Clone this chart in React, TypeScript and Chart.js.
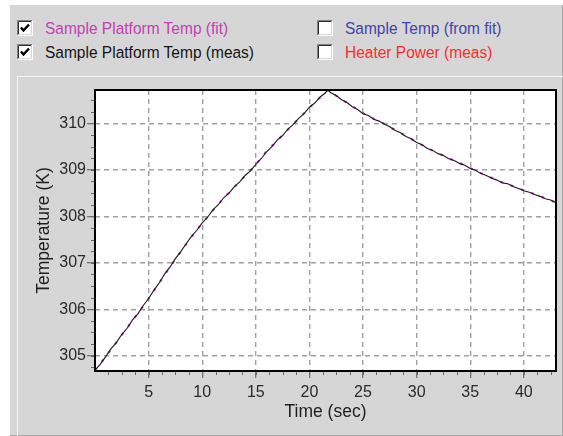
import { useEffect, useRef } from "react";
import { Chart, registerables } from "chart.js";

Chart.register(...registerables);

// Fitted platform temperature (K) against time (s)
const timeFit = [
  0, 1, 2, 3, 4, 5, 6, 7, 8, 9, 10, 11, 12, 13, 14, 15, 16, 17, 18, 19, 20, 21, 21.7,
  22, 23, 24, 25, 26, 27, 28, 29, 30, 31, 32, 33, 34, 35, 36, 37, 38, 39, 40, 41, 42, 43,
];
const tempFit = [
  304.68, 304.98, 305.29, 305.6, 305.91, 306.23, 306.57, 306.91, 307.24, 307.56, 307.85,
  308.13, 308.39, 308.63, 308.87, 309.12, 309.4, 309.63, 309.87, 310.1, 310.34, 310.56, 310.72,
  310.67, 310.52, 310.37, 310.22, 310.1, 309.99, 309.86, 309.73, 309.6, 309.47, 309.36,
  309.25, 309.15, 309.04, 308.93, 308.83, 308.73, 308.65, 308.56, 308.48, 308.39, 308.3,
];

// Measured platform temperature (K) against time (s)
const timeMeas = [
  0, 0.5, 1, 1.5, 2, 2.5, 3, 3.5, 4, 4.5, 5, 5.5, 6, 6.5, 7, 7.5, 8, 8.5, 9, 9.5, 10, 10.5,
  11, 11.5, 12, 12.5, 13, 13.5, 14, 14.5, 15, 15.5, 16, 16.5, 17, 17.5, 18, 18.5, 19, 19.5,
  20, 20.5, 21, 21.5, 21.7, 22, 22.5, 23, 23.5, 24, 24.5, 25, 25.5, 26, 26.5, 27, 27.5, 28,
  28.5, 29, 29.5, 30, 30.5, 31, 31.5, 32, 32.5, 33, 33.5, 34, 34.5, 35, 35.5, 36, 36.5, 37,
  37.5, 38, 38.5, 39, 39.5, 40, 40.5, 41, 41.5, 42, 42.5, 43,
];
const tempMeas = [
  304.69, 304.82, 304.98, 305.15, 305.28, 305.46, 305.59, 305.77, 305.9, 306.08, 306.23,
  306.41, 306.57, 306.76, 306.91, 307.09, 307.24, 307.41, 307.57, 307.7, 307.86, 307.98,
  308.14, 308.25, 308.4, 308.5, 308.64, 308.74, 308.88, 308.98, 309.12, 309.24, 309.39,
  309.5, 309.64, 309.74, 309.88, 309.98, 310.11, 310.21, 310.35, 310.44, 310.57, 310.66,
  310.72, 310.66, 310.6, 310.51, 310.45, 310.36, 310.3, 310.21, 310.17, 310.09, 310.05,
  309.98, 309.93, 309.85, 309.8, 309.72, 309.67, 309.59, 309.54, 309.46, 309.42, 309.35,
  309.31, 309.24, 309.2, 309.14, 309.1, 309.03, 308.99, 308.92, 308.88, 308.82, 308.78,
  308.72, 308.7, 308.64, 308.6, 308.55, 308.52, 308.47, 308.43, 308.38, 308.35, 308.29,
];

const xTicks = [5, 10, 15, 20, 25, 30, 35, 40];
const yTicks = [305, 306, 307, 308, 309, 310];
const xRange = [0, 43];
const yRange = [304.67, 310.72];
const xMinorStep = 1.25;
const yMinorStep = 0.25;

const legendLabels = [
  "Sample Platform Temp (fit)",
  "Sample Temp (from fit)",
  "Sample Platform Temp (meas)",
  "Heater Power (meas)",
];
const legendColors = ["#c440b4", "#4444a8", "#151515", "#ff2a2a"];
const legendChecked = [true, false, true, false];

const FONT = "'Liberation Sans', Arial, sans-serif";

// White plot area with a heavy black frame and small outside minor ticks
const plotFrame = {
  id: "plotFrame",
  beforeDraw(chart: any) {
    const { ctx, chartArea: a } = chart;
    ctx.save();
    ctx.fillStyle = "#ffffff";
    ctx.fillRect(a.left, a.top, a.right - a.left, a.bottom - a.top);
    ctx.restore();
  },
  afterDraw(chart: any) {
    const { ctx, chartArea: a, scales } = chart;
    const x = scales.x;
    const y = scales.y;
    ctx.save();
    ctx.strokeStyle = "#6a6a6a";
    ctx.lineWidth = 1;
    ctx.beginPath();
    for (let v = x.min + xMinorStep; v < x.max; v += xMinorStep) {
      const px = Math.round(x.getPixelForValue(v)) + 0.5;
      ctx.moveTo(px, a.bottom);
      ctx.lineTo(px, a.bottom + 4);
    }
    for (let v = Math.ceil(y.min / yMinorStep) * yMinorStep; v < y.max; v += yMinorStep) {
      const py = Math.round(y.getPixelForValue(v)) + 0.5;
      ctx.moveTo(a.left, py);
      ctx.lineTo(a.left - 4, py);
    }
    ctx.stroke();
    ctx.strokeStyle = "#000000";
    ctx.lineWidth = 2;
    ctx.strokeRect(a.left, a.top, a.right - a.left, a.bottom - a.top);
    ctx.restore();
  },
};

function CheckBox({ checked }: { checked: boolean }) {
  return (
    <svg width={16} height={16} style={{ display: "block" }}>
      <rect x={0} y={0} width={16} height={16} fill="#ffffff" />
      <path d="M0.5 15.5 V0.5 H15.5" stroke="#808080" fill="none" />
      <path d="M1.5 14.5 V1.5 H14.5" stroke="#303030" fill="none" />
      <path d="M0.5 15.5 H15.5 V0.5" stroke="#ffffff" fill="none" />
      <path d="M1.5 14.5 H14.5 V1.5" stroke="#d6d6d6" fill="none" />
      {checked && (
        <path d="M4 7.5 L6.5 10.5 L12 4.5" stroke="#000000" strokeWidth={2.4} fill="none" />
      )}
    </svg>
  );
}

export default function App() {
  const canvasRef = useRef<HTMLCanvasElement | null>(null);

  useEffect(() => {
    const canvas = canvasRef.current;
    if (!canvas) return;
    const gridStyle = {
      color: "#a0a0a0",
      lineWidth: 1.4,
      tickBorderDash: [],
      tickColor: "#6a6a6a",
      tickWidth: 1.2,
    };
    const chart = new Chart(canvas, {
      type: "line",
      data: {
        datasets: [
          {
            label: legendLabels[2],
            data: timeMeas.map((t, i) => ({ x: t, y: tempMeas[i] })),
            borderColor: "#1a1a1a",
            borderWidth: 1.1,
            pointRadius: 0,
            tension: 0,
          },
          {
            label: legendLabels[0],
            data: timeFit.map((t, i) => ({ x: t, y: tempFit[i] })),
            borderColor: "#c030c0",
            borderWidth: 2,
            borderDash: [3, 8],
            pointRadius: 0,
            tension: 0,
          },
        ],
      },
      options: {
        animation: false,
        responsive: false,
        devicePixelRatio: 1,
        events: [],
        layout: { padding: { left: 0, top: 90, right: 7, bottom: 0 } },
        plugins: { legend: { display: false }, tooltip: { enabled: false } },
        scales: {
          x: {
            type: "linear",
            min: xRange[0],
            max: xRange[1],
            afterFit: (s: any) => {
              s.height = 65;
            },
            afterBuildTicks: (s: any) => {
              s.ticks = xTicks.map((v) => ({ value: v }));
            },
            border: { display: false, dash: [5, 4] },
            grid: { ...gridStyle, tickLength: 7 },
            ticks: {
              color: "#2a2a2a",
              padding: 5,
              maxRotation: 0,
              font: { family: FONT, size: 16 },
            },
            title: {
              display: true,
              text: "Time (sec)",
              color: "#1e1e1e",
              font: { family: FONT, size: 17.5 },
              padding: { top: 0, bottom: 13 },
            },
          },
          y: {
            type: "linear",
            min: yRange[0],
            max: yRange[1],
            afterFit: (s: any) => {
              s.width = 95;
            },
            afterBuildTicks: (s: any) => {
              s.ticks = yTicks.map((v) => ({ value: v }));
            },
            border: { display: false, dash: [5, 4] },
            grid: { ...gridStyle, tickLength: 8 },
            ticks: {
              color: "#2a2a2a",
              padding: 1,
              font: { family: FONT, size: 16 },
            },
            title: {
              display: true,
              text: "Temperature (K)",
              color: "#1e1e1e",
              font: { family: FONT, size: 17.5 },
              padding: { top: 34, bottom: 0 },
            },
          },
        },
      },
      plugins: [plotFrame],
    });
    return () => chart.destroy();
  }, []);

  const legendPos = [
    { left: 17, top: 19 },
    { left: 317, top: 19 },
    { left: 17, top: 43 },
    { left: 317, top: 43 },
  ];

  return (
    <div
      style={{
        position: "fixed",
        left: 0,
        top: 0,
        width: 563,
        height: 436,
        background: "#ffffff",
        overflow: "hidden",
        fontFamily: FONT,
      }}
    >
      <div
        style={{
          position: "absolute",
          left: 10,
          top: 5,
          width: 552,
          height: 430,
          background: "#d6d6d6",
          borderRight: "1px solid #a6a6a6",
          borderBottom: "1px solid #a6a6a6",
        }}
      />
      <div
        style={{
          position: "absolute",
          left: 17,
          top: 76,
          width: 546,
          height: 360,
          borderTop: "1px solid #f6f6f6",
          borderLeft: "1px solid #f6f6f6",
        }}
      />
      {legendLabels.map((label, i) => (
        <div
          key={label}
          style={{
            position: "absolute",
            left: legendPos[i].left,
            top: legendPos[i].top,
            height: 17,
            display: "flex",
            alignItems: "center",
            whiteSpace: "nowrap",
          }}
        >
          <CheckBox checked={legendChecked[i]} />
          <span
            style={{
              marginLeft: 12,
              fontSize: 15.5,
              lineHeight: "17px",
              color: legendColors[i],
              display: "inline-block",
              transform: "scaleY(1.1)",
            }}
          >
            {label}
          </span>
        </div>
      ))}
      <canvas
        ref={canvasRef}
        width={563}
        height={436}
        style={{ position: "absolute", left: 0, top: 0, width: 563, height: 436 }}
      />
    </div>
  );
}
